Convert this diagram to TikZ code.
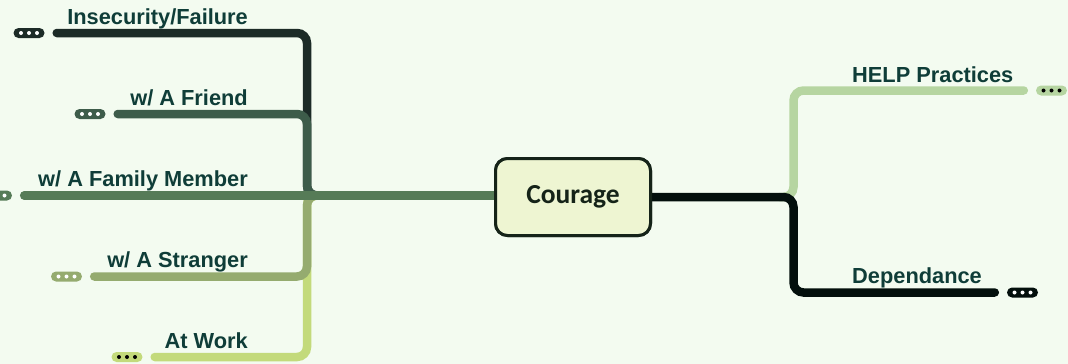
\documentclass[tikz,border=0pt]{standalone}
\usepackage{fontspec}
\setmainfont{Liberation Sans}
\newfontfamily\rootfont{Carlito}
\usetikzlibrary{calc}

\definecolor{bg}{HTML}{F3FBF0}
\definecolor{labeltext}{HTML}{0F3D38}
\definecolor{rootfill}{HTML}{EEF5D2}
\definecolor{rootline}{HTML}{152318}
\definecolor{cFail}{HTML}{1C2B27}
\definecolor{cFriend}{HTML}{3D5C4A}
\definecolor{cFamily}{HTML}{567B57}
\definecolor{cStranger}{HTML}{95AB6F}
\definecolor{cWork}{HTML}{C3DA7B}
\definecolor{cHelp}{HTML}{B6D5A1}
\definecolor{cDep}{HTML}{030F0C}

\tikzset{
  branch/.style={line width=8.5pt, line cap=round, rounded corners=10pt},
  lbl/.style={inner sep=0pt, text=labeltext, font=\fontsize{21.8}{24}\selectfont\bfseries},
  rootbox/.style={draw=rootline, fill=rootfill, line width=3pt, rounded corners=12pt,
    minimum width=155pt, minimum height=77pt, inner sep=0pt, text=rootline,
    font=\rootfont\fontsize{27.5}{30}\selectfont\bfseries},
  pill/.style={rectangle, rounded corners=5pt, minimum width=31pt, minimum height=10pt, inner sep=0pt},
}

% collapsed-branch marker: a filled pill with three dots
\newcommand\dotpill[5]{%
  \node[pill, fill=#4] (#1) at (#2,#3) {};
  \foreach \dx in {-8,0,8} \fill[#5] ([xshift=\dx pt]#1.center) circle[radius=2pt];
}

\begin{document}
\begin{tikzpicture}[x=1pt,y=-1pt]
\fill[bg] (0,0) rectangle (1068,364);
\useasboundingbox (0,0) rectangle (1068,364);

% central topic
\node[rootbox] (courage) at (573,197) {Courage};

% collapse markers
\dotpill{pFail}{29}{33}{cFail}{white}
\dotpill{pFriend}{90}{114}{cFriend}{white}
\dotpill{pFamily}{-3.5}{195.5}{cFamily}{white}
\dotpill{pStranger}{66.5}{276.5}{cStranger}{white}
\dotpill{pWork}{127}{357}{cWork}{black}
\dotpill{pHelp}{1051.5}{90.5}{cHelp}{black}
\dotpill{pDep}{1022.5}{292.5}{cDep}{white}

% junction points of the two trunks
\coordinate (jl) at (307,195.5);
\coordinate (jr) at (793.5,197);

% left branches, outermost first
\draw[branch, cFail] ([xshift=14pt]jl) -- (jl) -- (jl |- pFail) -- ([xshift=12pt]pFail.east);
\draw[branch, cWork] ([xshift=14pt]jl) -- (jl) -- (jl |- pWork) -- ([xshift=12pt]pWork.east);
\draw[branch, cFriend] ([xshift=14pt]jl) -- (jl) -- (jl |- pFriend) -- ([xshift=12pt]pFriend.east);
\draw[branch, cStranger] ([xshift=14pt]jl) -- (jl) -- (jl |- pStranger) -- ([xshift=12pt]pStranger.east);
\draw[branch, cFamily] ([yshift=1.5pt]courage.west) -- ([xshift=12pt]pFamily.east);

% right branches
\draw[branch, cHelp] ([xshift=-14pt]jr) -- (jr) -- (jr |- pHelp) -- ([xshift=-12pt]pHelp.west);
\draw[branch, cDep] (courage.east) -- (jr) -- (jr |- pDep) -- ([xshift=-12pt]pDep.west);

% redraw the topic box above the branch ends
\node[rootbox] at (courage) {Courage};

% branch labels
\node[lbl, anchor=base east] (tFail) at (248,24) {Insecurity/Failure};
\node[lbl, anchor=base east] (tFriend) at (248,105) {w/ A Friend};
\node[lbl, anchor=base east] (tFamily) at (248,186) {w/ A Family Member};
\node[lbl, anchor=base east] (tStranger) at (248,267) {w/ A Stranger};
\node[lbl, anchor=base east] (tWork) at (248,348) {At Work};
\node[lbl, anchor=base west] (tHelp) at (852,82) {HELP Practices};
\node[lbl, anchor=base west] (tDep) at (852,283.5) {Dependance};
\end{tikzpicture}
\end{document}
